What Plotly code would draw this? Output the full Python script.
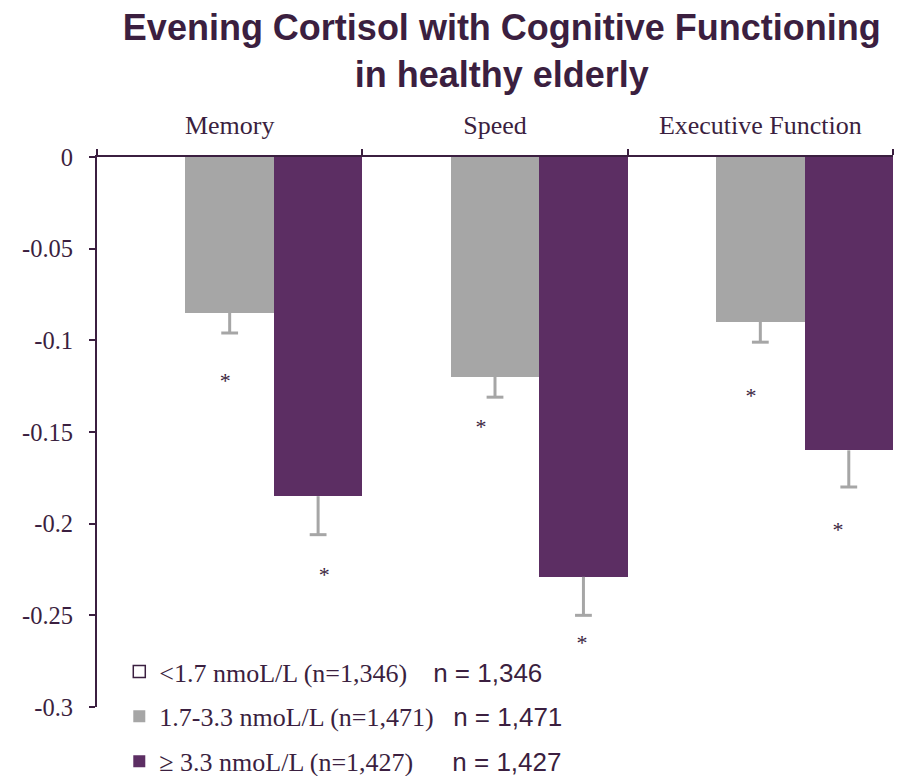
import plotly.graph_objects as go

categories = ["Memory", "Speed", "Executive Function"]
series_names = [
    '<1.7 nmoL/L (n=1,346)&nbsp;&nbsp;&nbsp;&nbsp;<span style="font-family:Liberation Sans, Arial">n = 1,346</span>',
    '1.7-3.3 nmoL/L (n=1,471)&nbsp;&nbsp;&nbsp;<span style="font-family:Liberation Sans, Arial">n = 1,471</span>',
    '≥ 3.3 nmoL/L (n=1,427)&nbsp;&nbsp;&nbsp;&nbsp;&nbsp;&nbsp;<span style="font-family:Liberation Sans, Arial">n = 1,427</span>',
]
low_vals = [0, 0, 0]
mid_vals = [-0.085, -0.12, -0.09]
high_vals = [-0.185, -0.229, -0.16]
mid_err = [0.011, 0.011, 0.011]
high_err = [0.021, 0.021, 0.020]
# significance star positions (x in category-index units)
star_x = [-0.017, 0.356, 0.947, 1.328, 1.965, 2.293]
star_y = [-0.123, -0.229, -0.148, -0.266, -0.131, -0.204]
y_ticks = [0, -0.05, -0.1, -0.15, -0.2, -0.25, -0.3]
y_ticktext = ["0", "-0.05", "-0.1", "-0.15", "-0.2", "-0.25", "-0.3"]

PURPLE = "#5c2e63"
GRAY = "#a6a6a6"
DARK = "#3b1f40"
SERIF = "Liberation Serif, Times New Roman, serif"
SANS = "Liberation Sans, Arial, sans-serif"

n_series = 3
bar_w = 1.0 / n_series


def err_segments(vals, errs, slot):
    xs, ys, cx, cy = [], [], [], []
    for i, (v, e) in enumerate(zip(vals, errs)):
        xc = i - 0.5 + bar_w * (slot + 0.5)
        xs += [xc, xc, None]
        ys += [v, v - e, None]
        cx.append(xc)
        cy.append(v - e)
    return xs, ys, cx, cy


fig = go.Figure()
fig.add_trace(go.Bar(x=categories, y=low_vals, name=series_names[0], legendgroup="a",
                     marker=dict(color="white", line=dict(color=DARK, width=1.5))))
fig.add_trace(go.Bar(x=categories, y=mid_vals, name=series_names[1], legendgroup="b",
                     marker=dict(color=GRAY, line=dict(width=0))))
fig.add_trace(go.Bar(x=categories, y=high_vals, name=series_names[2], legendgroup="c",
                     marker=dict(color=PURPLE, line=dict(width=0))))

for vals, errs, slot in [(mid_vals, mid_err, 1), (high_vals, high_err, 2)]:
    xs, ys, cx, cy = err_segments(vals, errs, slot)
    fig.add_trace(go.Scatter(x=xs, y=ys, mode="lines", xaxis="x2", showlegend=False,
                             line=dict(color=GRAY, width=3), hoverinfo="skip"))
    fig.add_trace(go.Scatter(x=cx, y=cy, mode="markers", xaxis="x2", showlegend=False,
                             marker=dict(symbol="line-ew", size=12,
                                         line=dict(color=GRAY, width=3)),
                             hoverinfo="skip"))

fig.add_trace(go.Scatter(x=star_x, y=star_y, mode="text", text=["*"] * len(star_x),
                         textposition="middle center", xaxis="x2", showlegend=False,
                         textfont=dict(family=SERIF, size=22, color=DARK), hoverinfo="skip"))

fig.update_layout(
    width=893, height=768,
    paper_bgcolor="white", plot_bgcolor="white",
    margin=dict(l=89, r=8, t=149, b=69, autoexpand=False),
    barmode="group", bargap=0, bargroupgap=0,
    title=dict(text="Evening Cortisol with Cognitive Functioning<br>in healthy elderly",
               x=0.553, xanchor="center", y=0.958, yanchor="middle",
               font=dict(family=SANS, size=36, color=DARK, weight="bold")),
    xaxis=dict(side="top", showline=True, linecolor=DARK, linewidth=2, ticks="outside",
               tickson="boundaries", ticklen=6, tickwidth=2, tickcolor=DARK,
               ticklabelstandoff=11,
               tickfont=dict(family=SERIF, size=26, color=DARK), showgrid=False, zeroline=False,
               fixedrange=True),
    xaxis2=dict(overlaying="x", range=[-0.5, 2.5], visible=False),
    yaxis=dict(range=[-0.3, 0], tickvals=y_ticks, ticktext=y_ticktext, showline=True,
               linecolor=DARK, linewidth=2, ticks="outside", ticklen=6, tickwidth=2,
               tickcolor=DARK, tickfont=dict(family=SERIF, size=24.5, color=DARK),
               showgrid=False, zeroline=False, ticklabelstandoff=11),
    legend=dict(x=0.028, y=0.107, xanchor="left", yanchor="top", traceorder="grouped",
                tracegroupgap=8, bgcolor="rgba(0,0,0,0)",
                font=dict(family=SERIF, size=26, color=DARK)),
    showlegend=True,
)

fig.write_html("out.html")
